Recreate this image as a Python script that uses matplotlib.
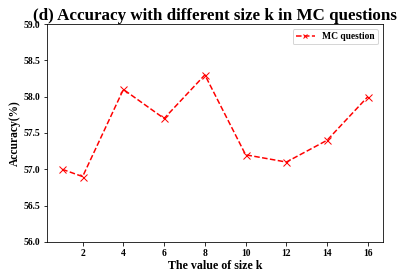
import matplotlib
matplotlib.use('Agg')
import matplotlib.pyplot as plt

k_sizes = [1, 2, 4, 6, 8, 10, 12, 14, 16]
accuracy = [57.0, 56.9, 58.1, 57.7, 58.3, 57.2, 57.1, 57.4, 58.0]
x_ticks = [2, 4, 6, 8, 10, 12, 14, 16]

plt.rcParams['font.family'] = ['Liberation Serif', 'DejaVu Serif']
plt.rcParams['font.weight'] = 'bold'

fig = plt.figure(figsize=(405 / 72, 280 / 72), dpi=72)
ax = fig.add_axes([0.116, 0.136, 0.83, 0.778])
ax.plot(k_sizes, accuracy, 'x--', color='red', label='MC question', markersize=7)
ax.set_ylim(56.0, 59.0)
ax.set_xticks(x_ticks)
ax.set_yticks([56.0, 56.5, 57.0, 57.5, 58.0, 58.5, 59.0])
ax.tick_params(labelsize=9.5)
for lab in ax.get_xticklabels() + ax.get_yticklabels():
    lab.set_fontweight('bold')
ax.set_xlabel('The value of size k', fontsize=12, fontweight='bold', labelpad=2)
ax.set_ylabel('Accuracy(%)', fontsize=11.5, fontweight='bold', labelpad=2)
ax.set_title('(d) Accuracy with different size k in MC questions', fontsize=17, fontweight='bold', pad=3)
ax.legend(loc='upper right', prop={'size': 9.5, 'weight': 'bold'}, markerscale=0.7,
          borderpad=0.35, handlelength=2.0)

fig.savefig('out.png', dpi=72)
